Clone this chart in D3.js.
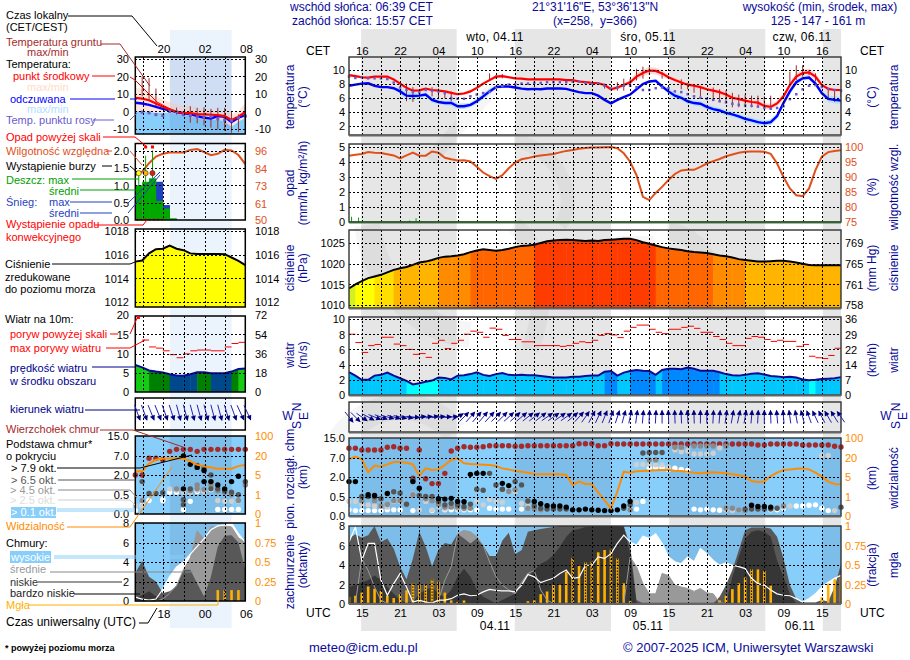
<!DOCTYPE html>
<html><head><meta charset="utf-8">
<script src="https://cdnjs.cloudflare.com/ajax/libs/d3/7.8.5/d3.min.js"></script>
<style>
html,body{margin:0;padding:0;background:#fff}
svg{display:block}
text{font-family:"Liberation Sans",Arial,sans-serif;font-size:12px}
</style></head><body><svg id="c" width="910" height="660"></svg>
<script>
// ---------- main forecast (hour 0 = 13 UTC) ----------
const tempMid=[9.2,9.05,8.9,8.85,9,9,9,8.6,8,7.4,7,7.05,7.3,7.1,7,6.9,6.7,6.5,6.6,6.9,7.4,8,8.5,9,9.05,8.9,8.75,8.7,8.6,8.6,8.6,8.6,8.6,8.6,8.5,8.5,8.3,8.2,8.1,8.05,7.8,7.2,7.45,7.8,8.2,9,9.5,9.85,9.8,9.45,8.9,8.5,8.15,7.85,7.7,7.5,7.2,7,6.8,6.45,6,5.8,5.6,5.4,5.3,4.85,4.7,5.2,6.2,7.8,9,9.5,9.6,9,7.8,7.25,7.1,7.1];
const tempFelt=[7.7,7.85,8,8.05,7.7,7.5,7.5,7.35,6.9,6.3,6.25,6.3,6.45,5.7,5.4,5.25,5.25,4.8,4.8,5,5.5,6.2,6.9,7.5,7.6,7.6,7.45,7.3,7.2,7.25,7.2,7.3,7.3,7.3,7.25,7,6.8,6.65,6.65,6.3,5.7,5.2,5.7,6.1,6.45,7.2,7.95,8.3,8.4,7.6,6.9,6.3,6,5.5,5.25,5.15,4.7,4.4,4.2,3.85,3.65,3.35,3,2.8,2.55,2.4,2.55,3.4,5.25,6.9,8.2,8.75,8.85,8,6.65,5.85,5.7,5.6];
const tempDew=[9,8.8,8.9,8.75,8.75,8.75,8.65,8.15,7.45,7.1,6.8,6.75,7.1,7,6.9,6.65,5.95,5.85,5.85,6.2,6.45,6.65,6.85,7.5,7.7,7.85,7.9,8,8,8.1,8.1,8.2,8.2,8.2,8.2,8.3,8.3,8.1,8,8,7.7,7.3,7.45,7.7,7.7,7.5,7.1,7.1,7.35,7.45,7.35,6.9,6.8,6.5,6.2,6,5.85,5.7,5.5,5.35,5.15,5,4.9,4.85,4.75,4.55,4.45,4.55,4.8,5.8,6.5,7.2,7.7,7.8,7.5,7.25,7.1,7];
const midSpread=[.2,.2,.2,.2,.2,.2,.2,.2,.2,.2,.2,.2,.2,.2,.2,.2,.2,.2,.2,.2,.2,.2,.2,.2,.2,.2,.2,.2,.2,.2,.2,.2,.2,.2,.2,.2,.2,.2,.2,.2,.2,.3,.3,.3,.3,.5,.5,.5,.5,.5,.35,.35,.35,.35,.35,.35,.35,.4,.4,.4,.4,.4,.4,.4,.4,.4,.4,.4,.4,.4,.5,.5,.5,.5,.35,.35,.35,.35];
const feltSpread=[.15,.15,.15,.15,.15,.15,.15,.15,.4,.6,.6,.4,.3,.4,.3,.3,.4,.4,.4,.3,.4,.4,.4,.2,.15,.15,.15,.15,.15,.15,.15,.15,.15,.15,.15,.15,.15,.15,.15,.15,.15,.15,.15,.15,.15,.15,.15,.15,.15,.2,.4,.4,.4,.4,.4,.4,.4,.4,.4,.4,.4,.4,.4,.4,.4,.4,.4,.4,.4,.4,.35,.3,.3,.3,.3,.5,.5,.5];
const groundHours=[9,10,13,14,15,16,22,23,24,40,42,43,44,45,46,47,49,52,53,54,55,57,58,59,60,61,62,63,64,65,66,69,70,71,72,73,75,76,77];
const groundMax=[8,7.5,7.5,7.3,7,6.9,9.45,9.2,9.35,8,8.2,8.7,8.7,10.1,10.4,10.3,9.6,8.6,8.1,7.9,7.7,7.45,7.2,7.05,6.7,6.45,6.45,6.3,6.3,6.2,6.3,9.7,10.6,10.6,9.95,9.45,7.25,7.1,7.1];
const groundMin=[5.5,5.4,6.2,5.9,5.9,5.5,8.5,8.7,8.75,7.3,7,7,7.7,8.45,8.7,9.3,8.7,7.2,7.2,6.7,6.2,5.9,5.5,5.2,4.65,4.65,4.65,4.65,4.65,4.8,4.8,7.6,8.5,9,9.2,8.3,5.7,5.4,6.1];
const precipHours=[.4,1.5,9.5,10.5,11.4];
const precipVals=[.35,.3,.1,.25,.05];
const humidity=[97.1,97.4,97.65,98.3,98.1,98,97.6,97.2,96.2,97.2,98.1,97.1,97.1,98.5,98.1,96.4,95.9,95.5,95.6,95.2,93.4,91.5,90.3,89.4,90.6,92.9,94.8,95.9,96.3,96.8,97.2,97.4,97.7,98.2,98.7,99,99.4,99.7,99.8,99.8,99.9,100,99.6,97.9,95.1,90.6,83.4,82.3,84.7,86.7,89,91,92.2,92.4,92.4,93.4,94.5,95.3,96,96.9,97.5,98.1,98.4,98.5,98.5,98.4,97.7,94.5,90,86.2,83.9,83.6,86.2,92.3,96.8,98.3,98.7,98.9];
const pressure=[1014,1015,1015.8,1016.5,1016.9,1017.3,1017.9,1018.5,1018.9,1019.2,1019.7,1020.3,1020.5,1020.9,1021.4,1021.7,1021.8,1022,1022.3,1022.8,1023.2,1023.5,1023.3,1023.1,1023.3,1023.6,1024,1024.3,1024.4,1024.6,1025,1025.4,1025.6,1025.7,1025.8,1025.7,1025.6,1025.5,1025.6,1025.5,1025.7,1025.8,1025.9,1026,1026,1025.7,1025.2,1024.8,1024.4,1024,1023.7,1023.5,1023.3,1023,1022.8,1022.7,1022.6,1022.3,1022,1021.8,1021.5,1021.1,1020.9,1020.7,1020.5,1020.5,1020.6,1020.7,1020.7,1020.5,1020.3,1020,1019.7,1019.6,1019.6,1019.6,1019.6,1019.6];
const windSpeed=[3,2.55,2,2,2.55,2.65,2.95,2.55,2.2,1.85,1.4,1.55,1.75,1.9,2.3,2.25,2.05,2.55,2.6,2.75,3,2.65,2.5,2.75,2.9,2.65,2.6,2.65,2.6,2.6,2.5,2.4,2.3,2.3,2.3,2.4,2.4,2.5,2.55,2.55,3.05,3.15,2.55,2.95,3.15,3.3,3.2,3.15,2.65,3.3,3.45,3.45,3.4,3.6,3.45,3.2,3.2,3.2,3,2.75,2.6,2.55,2.65,2.8,2.85,2.7,2.5,2.45,2.35,2.4,2.3,2.05,1.95,2,2.1,2.15,2.2,2.35];
const windGust=[8,6.9,5.6,6.5,6.65,7.6,7.6,6.7,6.5,6,5.35,5.45,4.95,6.8,7.2,6.1,6.8,7.2,8,8.4,8.25,7.6,8.8,8.65,7.85,7.3,7.3,7,7,6.5,6.5,6.5,6.5,6.4,6.5,6.8,7,6.9,7.2,7.85,8.07,7.9,7.55,8.4,8.9,9.2,9.2,8.65,8.25,8.07,8.65,8.65,8.9,9.05,8.77,8.25,8.25,7.7,7.3,6.8,6.5,6.5,7.45,7.7,7.6,7.3,7.05,7.2,7.05,7.05,6.4,6.65,5.1,4.9,4.8,5.2,6.15];
const windDir=[142,135,125,118,112,110,105,105,103,100,95,85,85,82,85,88,85,60,45,42,40,40,42,45,45,48,48,50,52,52,52,55,55,55,55,50,42,35,28,25,22,20,18,15,12,8,5,3,3,0,358,358,357,357,358,0,0,3,5,8,10,12,10,5,3,0,358,355,355,352,350,345,340,335,332,330,328,325];
const cloudTop=[10.9,10.9,10.2,10.2,10.2,10.2,11.3,11.5,10.9,10.9,1.9,10.2,1.87,1.5,1.5,2.96,9.8,10.9,11.5,11.3,11.3,11.5,11.9,11.9,11.9,11.9,11.7,11.7,11.9,11.9,11.9,11.9,11.9,11.9,11.9,11.9,12.7,12.7,12.7,11.9,11.9,12.7,12.6,12.6,12.6,12.6,12.6,12.6,12.6,12.6,12.6,12.6,12.6,12.6,12.6,12.6,12.6,12.6,12.6,12.6,12.6,12.6,12.6,12.6,12.2,12.2,12.6,12.6,12.6,12.6,12.6,12.2,12.2,12.2,12.2,12.2,11.7,11.4];
const base79=[[0,1.65],[1,1.65],[3,.65],[4,.6],[6,.75],[10,1.65],[11,1.15],[14,.45],[15,.44],[16,.46],[17,.38],[18,.37],[19,2.7],[20,2.96],[21,2.96],[24,1.52],[25,1.35],[29,.38],[30,.32],[31,.27],[32,.26],[33,.26],[34,.23],[35,.16],[36,.16],[37,.18],[38,.16],[39,.15],[40,.14],[41,.14],[42,.16],[43,.26],[44,.38],[63,.28],[64,.25],[65,.25],[66,.23]];
const base65=[[2,.52],[3,.52],[4,.5],[5,.45],[7,.88],[8,.78],[9,.31],[10,1.78],[11,.6],[12,.52],[13,.52],[14,.38],[15,.29],[16,.33],[17,.29],[18,.25],[19,.31],[20,1.08],[21,1],[22,2.96],[23,1.4],[24,1.08],[26,1.65],[27,1.4],[28,.39],[29,.26],[30,.2],[31,.18],[32,.18],[33,.18],[34,.18],[43,.2],[44,.29],[46,9],[47,9.2],[48,9.2],[49,9.2],[62,.18],[63,.18],[64,.18],[65,.18],[66,.18],[67,.2],[77,.23]];
const base45=[[2,.4],[4,.4],[5,.26],[6,.3],[7,.4],[8,.4],[9,.3],[10,.65],[12,.45],[13,.4],[14,.29],[15,.23],[16,.23],[17,.23],[18,.2],[19,.2],[24,1.05],[25,.9],[26,1.03],[28,.2],[29,.18],[30,.16],[44,.16],[47,6.5],[48,6.5],[51,11.3],[52,11.3],[54,11.8],[55,11.8],[56,11.8],[57,11.8],[59,11.8],[59,.2],[60,.2],[61,.16],[62,.14],[68,.26]];
const base25=[[0,.38],[1,.38],[2,.29],[3,.29],[4,.26],[5,.26],[6,.23],[7,.38],[8,.38],[10,.7],[11,.16],[12,.38],[13,.16],[14,.25],[15,.18],[17,.18],[18,.18],[20,.38],[21,.29],[22,.43],[23,.38],[24,.36],[25,.9],[26,.9],[27,.33],[28,.25],[44,.34],[45,.35],[45,5.3],[46,5.3],[47,5.2],[48,5.2],[49,5.2],[50,4.5],[51,10.2],[52,9.5],[53,9.9],[54,8.6],[55,8.6],[56,8.6],[57,8.9],[58,11],[59,.16],[60,.14],[61,.16],[68,.23],[69,.26],[74,8],[75,8],[76,.14]];
const base01=[[0,.16],[1,.14],[2,.14],[3,.14],[4,.14],[5,.14],[6,.16],[7,.16],[8,.16],[10,.14],[13,.14],[15,.16],[16,.16],[17,.16],[18,.16],[19,.16],[20,.16],[22,.2],[23,.18],[24,.18],[25,.18],[27,.18],[45,.18],[46,.38],[47,4.5],[48,4.5],[49,4.5],[50,4],[51,4.3],[52,4],[53,3.7],[54,.18],[55,.16],[56,.18],[57,.16],[58,.15],[59,.18],[66,.16],[67,.16],[68,.2],[70,.26],[71,.26],[72,.28],[73,.29],[74,.2],[75,.14]];
const visibility=[19,25.3,19,8.7,14,13.2,15,16.8,16.8,16.3,15,6,11.8,10.5,11,14.5,18.4,19.7,15.8,15.3,15,14.7,14.5,13.7,11.8,11,9.7,9.2,8.4,7.4,7.1,7.1,7.4,7.1,6.6,3.4,4.07,3.6,3.6,1.87,.81,.4,2.07,9.2,8.4,9.5,9.7,10,10.3,10.5,10.5,10,9.7,9.2,8.4,7.9,8.4,8.7,8.4,7.9,7.1,6.3,5.3,4.2,4,4.07,5.8,8.4,10.5,11,11.6,11.8,11,8.4,5.3,4.07,3.6,3.53];
const cloudHigh=[6.35,7.9,4.45,6.2,6.2,2.4,.85,2.05,3.1,1.7,.15,.35,.15,.05,.35,.35,.5,.85,1,.8,.85,1.2,1.45,1.35,1.3,1.3,1.2,1.9,3,2.75,2.15,2.4,2.6,3.1,3.45,2.6,2.7,3.95,3.95,4.8,4.65,5.15,6.2,7.05,6.35,6,6.95,6.7,7.2,6.2,4.8,4.3,4.1,4.8,4.3,5.65,5.15,4.45,3.95,4.2,3.95,3.8,3.6,2.6,2.05,1.9,1.4,1,.85,.8,.5,.15,.5,1,1.7,2.2,2.6,2.9];
const cloudMid=[0,0,4.6,3.4,1.7,.35,0,0,0,0,0,0,0,0,.35,2.4,3.8,7.2,7.55,7.4,6.9,6,4.3,2.75,1.9,1.4,1,2.2,3.1,3.4,1.4,.35,0,0,0,0,0,0,0,0,0,0,0,0,4.8,3.8,2.05,1,1,3.1,2.9,1.9,1.7,1.55,1.25,1.55,1.1,1,.1,0,0,0,0,0,0,0,0,0,0,0,0,0,0,0,0,0,0,0];
const cloudLow=[6.7,7.15,6.8,7.05,8,6.35,6.7,5.65,3.8,2.5,4.65,7.4,5.85,3.85,5.55,6.25,6.1,7.2,6.7,6.2,6.7,6,4.9,4.9,6.5,7.3,5.1,5.5,7.4,7.55,7.7,7.8,7.9,8,8,8,8,8,8,8,8,8,8,8,6,.35,0,0,0,0,0,0,0,0,0,0,0,0,.7,1.9,3.45,5.5,7.55,7.85,7.85,7.85,7.75,6.9,4.65,1.9,.5,.1,.1,.1,.35,.2,1.7,4.1];
const cloudVeryLow=[1.7,1.9,2.2,2.4,2.9,2.4,1.7,1,.35,.05,.15,1,1.4,1.7,1,.7,1.4,2.75,3.6,2.75,1.4,.7,.35,0,.35,.7,1,1.7,2.75,3.4,4.1,4.45,5,5.85,6.9,7.55,7.7,7.9,8,8,8,8,8,7.9,5.15,0,0,0,0,0,0,0,0,0,0,0,0,0,0,0,2.75,4.8,6.7,7.4,7.55,7.4,6.9,4.45,2.75,1,0,0,0,0,0,0,0,0];
const highFillFrom=44;
const fogHours=[0,1,2,3,4,5,6,7,8,9,10,11,12,13,14,15,16,17,18,28,29,30,31,32,33,34,35,36,37,38,39,40,41,42,43,44,58,59,60,61,62,63,64,65,66,74,75,76,77];
const fogVals=[.086,.1,.14,.22,.19,.16,.1,.07,.12,.17,.26,.245,.245,.31,.28,.14,.04,.02,.04,.03,.04,.12,.155,.24,.24,.41,.59,.485,.53,.54,.66,.69,.695,.58,.26,.03,.04,.1,.185,.26,.335,.44,.44,.42,.23,.08,.26,.315,.36];
const fogDotted=[10,11,12,13,14,35,37,38,41,42,63,65];
// ---------- short range panel (hour 0..16) ----------
const lTempMid=[7.6,7.2,6.3,4.4,2.5,1,-.4,-1,-1.1,-1.7,-1.9,-2.1,-2.3,-2.9,-5.1,-3.2,-.4];
const lTempFelt=[4.8,4.4,3.6,2.5,1.3,.4,-.6,-1.3,-1.7,-2.9,-3.8,-4.2,-2.9,-3.2,-6.3,-3.8,-2.3];
const lTempDew=[null,-.6,-1,-2,-2.5,-.2,-.4,-2,-2.5,-3.2,-3.6,-3.2,-4.4,-5.1,-5.5,-3.8,-2.9];
const lPaleTop=[13.7,12.4,10.5,8.6,6.7,5.1,3.8,2.8,2.8,1.9,1,.4,0,0,-1.9,0,4.8];
const lPaleLow=[0,0,-.5,-1,-1,-1,-1.5,-2,-3,-4,-5,-5,-5,-6,-9,-6,-4];
const lGroundHours=[1,2,3,6,8,9,10,11,12,13,14,15,16];
const lGroundMax=[20,19,13,2,2.8,1.9,2.3,1.3,1.9,1.9,0,-1.9,2.8];
const lGroundMin=[8.5,6.7,2,-2,-6.7,-7,-8.2,-9.5,-10.5,-11.4,-12.4,-12,-4.8];
const lRain=[1,1.1,1.2,.55,.33,.05];
const lSnow=[null,null,null,1.1,.43,null];
const stormHours=[.5,1.5,2.5];
const stormColors=['#ffff00','#ffb000','#e02000'];
const stormTop=[1.35,1.85,2];
const overScaleHours=[1.5,2.5];
const convHours=[.3,.9,1.5,2.1,2.7,3.3,3.9];
const lHumidity=[79.8,82,87.6,92,93.8,94.7,94.7,94.7,96.4,97,95,92.9,93.8,96.4,96,93,87];
const lPressure=[1015.4,1015.5,1016.1,1016.45,1016.5,1016.76,1016.5,1016.37,1016.1,1016.05,1016.05,1016.05,1016.05,1016.03,1015.75,1015.46,1015.1];
const lWindSpeed=[7,6.4,5.6,5.3,5.1,4.6,4.3,4.2,4.6,5.1,5.1,4.9,4.9,4.9,5.3,6,6.1];
const lWindGust=[null,13.5,11.7,11.4,10.7,9.7,8.9,9.9,10.7,10.9,10.9,10.7,10.7,11.7,12.6,12.9];
const lWindDir=[160,160,158,158,160,162,165,165,165,165,165,165,165,163,160,155,155];
const lCloudTop=[2,2,6.4,6.4,6,8.87,9.67,9.67,9.67,8.87,9.67,9.67,9.67,9.67,9.67,9.67,9.67];
const lBase79=[[7,7],[8,4.8],[9,4],[10,3.2],[10,1.5],[11,1.5],[12,1.25],[13,.95],[14,1.5],[15,1.9],[7,.95]];
const lBase65=[[1,1.5],[2,.6],[3,.6],[4,.65],[7,.37],[7,.24],[8,.95],[9,4.5],[10,4],[11,2],[11,.95],[12,.95],[13,.8],[14,.7],[15,.5],[16,1.5]];
const lBase45=[[1,.35],[6,.95],[7,.37],[8,.8],[9,1.25],[9,.95],[10,.9],[11,1.5],[11,1.25],[12,.8],[13,.7],[14,.5],[15,.35],[16,1.25]];
const lBase25=[[0,.21],[1,.21],[5,.95],[6,.85],[7,.7],[8,.7],[9,.85],[10,.75],[12,.35],[13,.33],[14,.33],[15,.33]];
const lBase01=[[0,.1],[1,.22],[2,.35],[4,.38],[4,.35],[5,.7],[6,.7],[7,.12],[8,.33],[9,.75],[10,.8],[11,.9],[12,.12],[13,.12],[14,.12],[15,.12]];
const lVisibility=[8,8,14,17,18,18,18,18,16,13,12,11,10,10,10,12,13];
const lCloudHigh=[.4,.2,.1,.2,1.2,2.5,3.5,4,4.8,5.6,6.4,7.3,7.7,7.8,8,6.9,6];
const lCloudMid=[0,0,0,0,.2,.8,1.6,3.2,4.4,7.2,6.3,7.6,7.6,7.7,7.6,6.5,6];
const lCloudLow=[2.9,4.1,2.5,2,.8,1,1.5,3.2,3.2,1.8,.45,2.5,5.6,6.7,6.75,6,3.2];
const lCloudVeryLow=[.3,.6,1,.5,.1,0,0,0,0,0,0,0,0,0,0,0,0];
const lFogHours=[12,13,14,15];
const lFogVals=[.14,.14,.14,.14];
// ---------- tick labels ----------
const localLabels=['16','22','04','10','16','22','04','10','16','22','04','10','16'];
const utcLabels=['15','21','03','09','15','21','03','09','15','21','03','09','15'];
const labelHours=[2,8,14,20,26,32,38,44,50,56,62,68,74];
const nightSpans=[[1.9,16.85],[25.95,41],[50.1,65.15],[74.15,77]];
const gridHours=d3.range(2,77,3);
const lLocalLabels=['20','02','08'];
const lUtcLabels=['18','00','06'];
const lLabelHours=[4.1,10.1,16.1];
const lGridHours=[1.1,4.1,7.1,10.1,13.1];

const svg=d3.select('#c');
const NAVY='#0a0a9a', ORANGE='#ff8c00', RHC='#e2501a', BROWN='#a52a2a';
const SKY='#87cefa', SKYD='#7cbde9';
const xM=d3.scaleLinear().domain([0,77]).range([349,841]);
const xL=d3.scaleLinear().domain([0,16]).range([135.3,245.3]);

// background bands
const bg=svg.append('g');
bg.selectAll('rect').data(nightSpans).join('rect')
 .attr('x',d=>xM(d[0])).attr('width',d=>xM(d[1])-xM(d[0])).attr('y',29).attr('height',602).attr('fill','#e6e6e6');
bg.append('rect').attr('x',xL(5.03)).attr('width',xL(14)-xL(5.03)).attr('y',30).attr('height',598).attr('fill','#ebf3fd');
// faint watermark
[['M367 225 C378 290 420 330 470 335 M455 432 C430 400 372 395 340 440',26],
 ['M514 225 C545 250 548 300 530 350 M620 310 L625 245 L645 245 L650 310',18],
 ['M667 232 C700 232 720 270 715 310',18],
 ['M430 160 L500 80 M514 140 C560 150 580 200 560 225',14]].forEach(w=>
  bg.append('path').attr('d',w[0]).attr('fill','none').attr('stroke','#000').attr('stroke-opacity',.035).attr('stroke-width',w[1]));

let clipN=0;
function panel(o){
 const g=svg.append('g');
 const id='cp'+(clipN++);
 g.append('clipPath').attr('id',id).append('rect').attr('x',o.x0).attr('y',o.top).attr('width',o.x1-o.x0).attr('height',o.bottom-o.top);
 const body=g.append('g').attr('clip-path',`url(#${id})`);
 const over=g.append('g');
 o.g=g;o.body=body;o.over=over;
 return o;
}
function finish(o,y,ticks){
 const gh=o.x===xM?gridHours:lGridHours;
 const gr=o.g.append('g').attr('stroke','#000').attr('stroke-dasharray','2,2').attr('shape-rendering','crispEdges');
 gr.selectAll('.v').data(gh).join('line').attr('x1',d=>Math.round(o.x(d))+.5).attr('x2',d=>Math.round(o.x(d))+.5).attr('y1',o.top).attr('y2',o.bottom);
 if(ticks) gr.selectAll('.h').data(ticks).join('line').attr('y1',d=>Math.round(y(d))+.5).attr('y2',d=>Math.round(y(d))+.5).attr('x1',o.x0).attr('x2',o.x1);
}
function front(o){ o.g.append('rect').attr('x',o.x0).attr('y',o.top).attr('width',o.x1-o.x0).attr('height',o.bottom-o.top)
   .attr('fill','none').attr('stroke',o.x===xM?'#333':'#000').attr('stroke-width',o.x===xM?1.4:1.5);
 if(o.x===xM) o.g.append('line').attr('x1',o.x0).attr('x2',o.x1).attr('y1',o.bottom+.5).attr('y2',o.bottom+.5).attr('stroke','#666').attr('stroke-width',2);
}
function yAxis(o,y,values,labels,side,color){
 const gen=(side==='left'?d3.axisLeft(y):d3.axisRight(y)).tickSize(0).tickPadding(0).tickValues(values).tickFormat((d,i)=>labels[i]);
 const xp=side==='left'?(o.x===xM?345:129):(o.x===xM?845:255);
 const a=svg.append('g').attr('transform',`translate(${xp},0)`).call(gen);
 a.select('.domain').remove();
 a.selectAll('text').attr('fill',color||'#000').style('font-size','11px').attr('dy','.36em');
 return a;
}
function hAxis(x,vals,labels,yy){
 const a=svg.append('g').attr('transform',`translate(0,${yy})`).call(d3.axisTop(x).tickSize(0).tickPadding(0).tickValues(vals).tickFormat((d,i)=>labels[i]));
 a.select('.domain').remove();
 a.selectAll('text').attr('fill','#000').style('font-size','11.5px');
}
const line=(x,y,arr)=>d3.line().defined(d=>d!=null).x((d,i)=>x(i)).y(d=>y(d))(arr);

// ---- temperature
function drawTemp(o,y,mid,felt,dew,gh,gmax,gmin,dewSize){
 o.body.selectAll('.gb').data(gh).join('line').attr('x1',(d)=>o.x(d)).attr('x2',d=>o.x(d))
  .attr('y1',(d,i)=>y(gmax[i])).attr('y2',(d,i)=>y(gmin[i])).attr('stroke',BROWN).attr('stroke-width',1);
 o.body.append('path').attr('d',line(o.x,y,felt)).attr('fill','none').attr('stroke','#0000ff').attr('stroke-width',2.4);
 o.body.append('path').attr('d',line(o.x,y,mid)).attr('fill','none').attr('stroke','#ff0000').attr('stroke-width',2.2);
 o.over.selectAll('rect').data(dew.map((d,i)=>[i,d]).filter(d=>d[1]!=null)).join('rect')
  .attr('x',d=>o.x(d[0])-dewSize/2).attr('y',d=>y(d[1])-dewSize/2).attr('width',dewSize).attr('height',dewSize).attr('fill','#6a5acd');
}
{
 const o=panel({x:xM,x0:349,x1:841,top:57,bottom:135});
 const y=d3.scaleLinear().domain([2,10]).range([126,69.5]);
 const band=(arr,sp,c)=>o.body.append('path').attr('fill',c).attr('d',d3.area().x((d,i)=>xM(i)).y0((d,i)=>y(d+sp[i])).y1((d,i)=>y(d-sp[i]))(arr));
 band(tempMid,midSpread,'#ffd9d9');band(tempFelt,feltSpread,'#b5e2ff');
 finish(o,y,[2,4,6,8,10]);
 drawTemp(o,y,tempMid,tempFelt,tempDew,groundHours,groundMax,groundMin,2.5);
 front(o);
 yAxis(o,y,[2,4,6,8,10],['2','4','6','8','10'],'left');
 yAxis(o,y,[2,4,6,8,10],['2','4','6','8','10'],'right');
}
{
 const o=panel({x:xL,x0:135.3,x1:245.3,top:57,bottom:134});
 const y=d3.scaleLinear().domain([-10,30]).range([128.5,59]);
 o.body.append('path').attr('fill','#ffe6dc').attr('d',d3.area().x((d,i)=>xL(i)).y0((d,i)=>y(lPaleLow[i])).y1(d=>y(d))(lPaleTop));
 o.body.append('path').attr('fill',SKY).attr('d',d3.area().x((d,i)=>xL(i)).y0(134).y1(d=>y(d))(lPaleLow));
 o.body.append('rect').attr('x',xL(5.03)).attr('width',xL(14)-xL(5.03)).attr('y',57).attr('height',77).attr('fill','#5a7ec8').attr('opacity',.18);
 finish(o,y,[-10,0,10,20,30]);
 drawTemp(o,y,lTempMid,lTempFelt,lTempDew,lGroundHours,lGroundMax,lGroundMin,3);
 front(o);
 const t=[-10,0,10,20,30],l=['-10','0','10','20','30'];
 yAxis(o,y,t,l,'left');yAxis(o,y,t,l,'right');
}
// ---- precipitation / humidity
{
 const o=panel({x:xM,x0:349,x1:841,top:144,bottom:222});
 const y=d3.scaleLinear().domain([0,5]).range([222,147]);
 const yh=d3.scaleLinear().domain([75,100]).range([222,147]);
 finish(o,y,[1,2,3,4,5]);
 o.body.selectAll('.pb').data(precipHours).join('line').attr('x1',d=>xM(d)).attr('x2',d=>xM(d))
  .attr('y1',222).attr('y2',(d,i)=>y(precipVals[i])).attr('stroke','#00a000').attr('stroke-width',1);
 o.body.append('path').attr('d',line(xM,yh,humidity)).attr('fill','none').attr('stroke',RHC).attr('stroke-width',2);
 front(o);
 o.g.append('line').attr('x1',349).attr('x2',841).attr('y1',222).attr('y2',222).attr('stroke','#006400');
 yAxis(o,y,[0,1,2,3,4,5],['0','1','2','3','4','5'],'left');
 yAxis(o,yh,[75,80,85,90,95,100],['75','80','85','90','95','100'],'right',RHC);
}
{
 const o=panel({x:xL,x0:135.3,x1:245.3,top:143.5,bottom:220});
 const y=d3.scaleLinear().domain([0,2]).range([220,150.5]);
 const yh=d3.scaleLinear().domain([50,96]).range([220,150.5]);
 o.body.selectAll('.s').data(lSnow).join('rect').filter(d=>d!=null)
  .attr('x',(d,i)=>xL(lSnow.indexOf(d))).attr('width',xL(1)-xL(0)+.3).attr('y',d=>y(d)).attr('height',d=>220-y(d)).attr('fill','#1f3fc4');
 o.body.selectAll('.r').data(lRain).join('rect')
  .attr('x',(d,i)=>xL(i)).attr('width',xL(1)-xL(0)+.3).attr('y',d=>y(d)).attr('height',d=>220-y(d)).attr('fill','#00a800');
 finish(o,y,[.5,1,1.5,2]);
 o.body.append('path').attr('d',line(xL,yh,lHumidity)).attr('fill','none').attr('stroke',RHC).attr('stroke-width',2);
 stormHours.forEach((h,i)=>{
  o.over.append('line').attr('x1',xL(h)).attr('x2',xL(h)).attr('y1',y(lRain[Math.floor(h)])).attr('y2',y(stormTop[i])).attr('stroke','#00a800');
 });
 o.over.selectAll('circle.st').data(stormHours).join('circle').attr('class','st').attr('cx',d=>xL(d)).attr('cy',y(1.35)).attr('r',2.6)
  .attr('fill',(d,i)=>stormColors[i]).attr('stroke','#333').attr('stroke-width',.6);
 svg.selectAll('rect.os').data(overScaleHours).join('rect').attr('class','os').attr('x',d=>xL(d)-1.5).attr('y',145.5).attr('width',3).attr('height',3).attr('fill','#f00');
 o.over.selectAll('circle.cv').data(convHours).join('circle').attr('class','cv').attr('cx',d=>xL(d)).attr('cy',219.5).attr('r',1.1).attr('fill','#f00');
 front(o);
 yAxis(o,y,[0,.5,1,1.5,2],['0.0','0.5','1.0','1.5','2.0'],'left');
 yAxis(o,yh,[50,61,73,84,96],['50','61','73','84','96'],'right',RHC);
}
// ---- pressure
const pColor=d3.scaleThreshold().domain([1014.5,1016.8,1018.4,1020.95,1022.4,1024.55]).range(['#d4f020','#ffff00','#ffdf00','#ffb400','#ff8c00','#ff6600','#ff3c00']);
function drawPress(o,y,arr,lw){
 const id='pa'+(clipN++);
 o.body.append('clipPath').attr('id',id).append('path').attr('d',d3.area().x((d,i)=>o.x(i)).y0(o.bottom).y1(d=>y(d))(arr));
 o.body.append('g').attr('clip-path',`url(#${id})`).selectAll('rect').data(arr).join('rect')
  .attr('x',(d,i)=>o.x(i)).attr('width',o.x(1)-o.x(0)+.5).attr('y',o.top).attr('height',o.bottom-o.top).attr('fill',d=>pColor(d));
 finish(o,y,o.yt);
 o.over.append('path').attr('d',line(o.x,y,arr)).attr('fill','none').attr('stroke','#000').attr('stroke-width',lw);
 front(o);
}
{
 const o=panel({x:xM,x0:349,x1:841,top:230,bottom:308,yt:[1010,1015,1020,1025]});
 const y=d3.scaleLinear().domain([1010,1025]).range([305,243]);
 drawPress(o,y,pressure,2);
 yAxis(o,y,o.yt,['1010','1015','1020','1025'],'left');
 yAxis(o,y,o.yt,['758','761','765','769'],'right');
}
{
 const o=panel({x:xL,x0:135.3,x1:245.3,top:229,bottom:307,yt:[1012,1014,1016,1018]});
 const y=d3.scaleLinear().domain([1012,1018]).range([301.7,231]);
 drawPress(o,y,lPressure,2);
 const l=['1012','1014','1016','1018'];
 yAxis(o,y,o.yt,l,'left');yAxis(o,y,o.yt,l,'right');
}
// ---- wind
const wColor=d3.scaleThreshold().domain([2,3.02,4,5,6]).range(['#00ffff','#00c8ff','#0088ff','#00488c','#008000','#14cc14']);
function drawWind(o,y,sp,gust,lw){
 const id='wa'+(clipN++);
 o.body.append('clipPath').attr('id',id).append('path').attr('d',d3.area().x((d,i)=>o.x(i)).y0(o.bottom).y1(d=>y(d))(sp));
 o.body.append('g').attr('clip-path',`url(#${id})`).selectAll('rect').data(sp).join('rect')
  .attr('x',(d,i)=>o.x(i)).attr('width',o.x(1)-o.x(0)+.5).attr('y',o.top).attr('height',o.bottom-o.top).attr('fill',d=>wColor(d));
 finish(o,y,o.yt);
 o.over.selectAll('line.g').data(gust.map((d,i)=>[i,d]).filter(d=>d[1]!=null)).join('line').attr('class','g')
  .attr('x1',d=>o.x(d[0])).attr('x2',d=>o.x(d[0]+1)).attr('y1',d=>y(d[1])).attr('y2',d=>y(d[1])).attr('stroke','#f00').attr('stroke-width',1);
 o.over.append('path').attr('d',line(o.x,y,sp)).attr('fill','none').attr('stroke','#0a0a96').attr('stroke-width',lw);
 front(o);
}
{
 const o=panel({x:xM,x0:349,x1:841,top:317,bottom:395,yt:[2,4,6,8,10]});
 const y=d3.scaleLinear().domain([0,10]).range([395,319]);
 drawWind(o,y,windSpeed,windGust,2);
 const t=[0,2,4,6,8,10];
 yAxis(o,y,t,['0','2','4','6','8','10'],'left');
 yAxis(o,y,t,['0','7','14','22','29','36'],'right');
}
{
 const o=panel({x:xL,x0:135.3,x1:245.3,top:316,bottom:392,yt:[5,10,15]});
 const y=d3.scaleLinear().domain([0,20]).range([392,315]);
 drawWind(o,y,lWindSpeed,lWindGust,2);
 svg.append('rect').attr('x',xL(.45)-1.5).attr('y',316).attr('width',3).attr('height',3).attr('fill','#f00');
 const t=[0,5,10,15,20];
 yAxis(o,y,t,['0','5','10','15','20'],'left');
 yAxis(o,y,t,['0','18','36','54','72'],'right');
}
// ---- wind direction
function drawDir(o,dirs,cy,L,off){
 finish(o,null,null);
 const g=svg.append('g');
 const rad=d=>d*Math.PI/180;
 g.selectAll('line').data(dirs).join('line')
  .attr('x1',(d,i)=>o.x(i)-Math.sin(rad(d))*L/2+off).attr('x2',(d,i)=>o.x(i)+Math.sin(rad(d))*L/2+off)
  .attr('y1',d=>cy+Math.cos(rad(d))*L/2).attr('y2',d=>cy-Math.cos(rad(d))*L/2).attr('stroke','#2424b4').attr('stroke-width',1);
 g.selectAll('path').data(dirs).join('path').attr('d','M0,-2.8 L2.6,2.4 L-2.6,2.4 Z').attr('fill','#00007c')
  .attr('transform',(d,i)=>`translate(${o.x(i)+Math.sin(rad(d))*(L/2-2)+off},${cy-Math.cos(rad(d))*(L/2-2)}) rotate(${d})`);
 front(o);
}
drawDir(panel({x:xM,x0:349,x1:841,top:402,bottom:432}),windDir,417,13,0);
drawDir(panel({x:xL,x0:135.3,x1:245.3,top:398,bottom:430}),lWindDir,412.5,16,2);
// ---- cloud base + visibility
const kmDomain=[0,.5,2,7,15], visDomain=[0,1,5,20,100];
function drawBase(o,top,series,vis,bandSpan){
 const rng=[o.bottom,o.bottom-19.2,o.bottom-39,o.bottom-58,o.bottom-78];
 const y=d3.scaleLinear().domain(kmDomain).range(rng);
 const yv=d3.scaleLinear().domain(visDomain).range(rng);
 o.body.append('rect').attr('x',o.x0).attr('y',o.top).attr('width',o.x1-o.x0).attr('height',o.bottom-o.top).attr('fill',SKY);
 o.body.selectAll('.nb').data(bandSpan).join('rect').attr('x',d=>o.x(d[0])).attr('width',d=>o.x(d[1])-o.x(d[0])).attr('y',o.top).attr('height',o.bottom-o.top).attr('fill',SKYD);
 finish(o,y,[.5,2,7]);
 const R=2.7;
 const dots=(arr,c)=>o.over.append('g').selectAll('circle').data(arr).join('circle').attr('cx',d=>o.x(d[0])).attr('cy',d=>y(d[1])).attr('r',R).attr('fill',c);
 dots(top.map((d,i)=>[i,d]),BROWN);
 series.forEach(s=>dots(s[0],s[1]));
 o.over.append('path').attr('d',line(o.x,yv,vis)).attr('fill','none').attr('stroke',ORANGE).attr('stroke-width',2);
 front(o);
 return [y,yv];
}
{
 const o=panel({x:xM,x0:349,x1:841,top:438,bottom:516});
 const [y,yv]=drawBase(o,cloudTop,[[base01,'#fff'],[base25,'#cfcfcf'],[base45,'#8a8a8a'],[base65,'#555'],[base79,'#000']],visibility,nightSpans);
 yAxis(o,y,kmDomain,['0.0','0.5','2.0','7.0','15.0'],'left');
 yAxis(o,yv,visDomain,['0','1','5','20','100'],'right',ORANGE);
}
{
 const o=panel({x:xL,x0:135.3,x1:245.3,top:436,bottom:514});
 const [y,yv]=drawBase(o,lCloudTop,[[lBase01,'#fff'],[lBase25,'#cfcfcf'],[lBase45,'#8a8a8a'],[lBase65,'#555'],[lBase79,'#000']],lVisibility,[[5.03,14]]);
 yAxis(o,y,kmDomain,['0.0','0.5','2.0','7.0','15.0'],'left');
 yAxis(o,yv,visDomain,['0','1','5','20','100'],'right',ORANGE);
}
// ---- cloud cover + fog
function drawCover(o,hi,mi,lo,vl,fh,fv,dotted,span,hiFrom){
 const y=d3.scaleLinear().domain([0,8]).range([o.bottom,o.top]);
 const yf=d3.scaleLinear().domain([0,1]).range([o.bottom,o.top]);
 o.body.append('rect').attr('x',o.x0).attr('y',o.top).attr('width',o.x1-o.x0).attr('height',o.bottom-o.top).attr('fill',SKY);
 o.body.selectAll('.nb').data(span).join('rect').attr('x',d=>o.x(d[0])).attr('width',d=>o.x(d[1])-o.x(d[0])).attr('y',o.top).attr('height',o.bottom-o.top).attr('fill',SKYD);
 const ar=(a,c,from)=>o.body.append('path').attr('fill',c).attr('d',d3.area().defined((d,i)=>i>=from).x((d,i)=>o.x(i)).y0(o.bottom).y1(d=>y(d))(a));
 ar(hi,'#fff',hiFrom);ar(mi,'#999',0);ar(lo,'#585858',0);ar(vl,'#363636',0);
 finish(o,y,[2,4,6]);
 o.over.append('path').attr('d',line(o.x,y,mi)).attr('fill','none').attr('stroke','#999').attr('stroke-width',1);
 o.over.append('path').attr('d',line(o.x,y,hi)).attr('fill','none').attr('stroke','#fff').attr('stroke-width',1.2);
 o.body.append('g').selectAll('rect').data(fh).join('rect').attr('x',d=>o.x(d)-1.3).attr('width',2.6)
  .attr('y',(d,i)=>yf(fv[i])).attr('height',(d,i)=>o.bottom-yf(fv[i])).attr('fill','#ffb000');
 o.body.append('g').selectAll('line').data(fh.map((h,i)=>[h,fv[i]]).filter(d=>dotted.includes(d[0]))).join('line')
  .attr('x1',d=>o.x(d[0])).attr('x2',d=>o.x(d[0])).attr('y1',d=>yf(d[1])).attr('y2',o.bottom).attr('stroke','#000').attr('stroke-dasharray','1.5,1.5');
 front(o);
 return [y,yf];
}
{
 const o=panel({x:xM,x0:349,x1:841,top:526,bottom:603.5});
 const [y,yf]=drawCover(o,cloudHigh,cloudMid,cloudLow,cloudVeryLow,fogHours,fogVals,fogDotted,nightSpans,highFillFrom);
 yAxis(o,y,[0,2,4,6,8],['0','2','4','6','8'],'left');
 yAxis(o,yf,[0,.25,.5,.75,1],['0','0.25','0.5','0.75','1'],'right',ORANGE);
}
{
 const o=panel({x:xL,x0:135.3,x1:245.3,top:523,bottom:601});
 const [y,yf]=drawCover(o,lCloudHigh,lCloudMid,lCloudLow,lCloudVeryLow,lFogHours,lFogVals,[13],[[5.03,14]],0);
 yAxis(o,y,[0,2,4,6,8],['0','2','4','6','8'],'left');
 yAxis(o,yf,[0,.25,.5,.75,1],['0','0.25','0.5','0.75','1'],'right',ORANGE);
}
// time axes
hAxis(xM,labelHours,localLabels,55);
hAxis(xM,labelHours,utcLabels,617);
hAxis(xL,lLabelHours,lLocalLabels,53);
hAxis(xL,lLabelHours,lUtcLabels,618);

// legend leaders
const leaders=[
 ['M68 16H132L157 46','#000'],['M101 44H120L150 86',BROWN],['M92 76H115M130 77L135 80L157 102L172 110','#f00'],
 ['M70 99H115M130 99H137','#00f'],['M93 120H114M130 120L137 113','#6a5acd'],['M103 137H135L146 146','#f00'],
 ['M106 151H112M130 151L142 165',RHC],['M102 166H112M130 166L137 172','#000'],['M72 179H139','#00a000'],['M80 190H143','#00a000'],
 ['M70 202H112M128 203L160 172','#1f3fc4'],['M80 213H112M128 213L160 175','#1f3fc4'],['M95 225H143L147 220','#f00'],
 ['M52 264H130L135 262','#000'],['M110 334H118M130 334L138 316','#f00'],['M106 348H130L145 340','#f00'],['M92 367H135','#00008b'],
 ['M85 410H140','#00008b'],['M100 430H133L183 447',BROWN],['M57 468H140L192 455','#000'],['M58 480H135','#555'],
 ['M58 490H130L137 498','#888'],['M58 500H130L135 505','#ccc'],['M57 509H135M57 511H135',SKY],
 ['M67 527H130L172 467',ORANGE],['M54 556H185M54 558H185',SKY],['M50 572H193','#888'],['M38 582H122','#333'],
 ['M74 594H140','#000'],['M28 605H218V595','#ffb000'],['M139 623H148L157 608','#000']];
svg.append('g').selectAll('path').data(leaders).join('path').attr('d',d=>d[0]).attr('fill','none').attr('stroke',d=>d[1]).attr('stroke-width',1);
svg.append('rect').attr('x',11).attr('y',507).attr('width',45).attr('height',11).attr('fill',SKY);
svg.append('rect').attr('x',10).attr('y',551).attr('width',41).attr('height',12).attr('fill',SKY);

// text
const legendText=[
 ['Czas lokalny',6,19,'#000'],['(CET/CEST)',6,31,'#000'],['Temperatura gruntu',6,46,BROWN],['max/min',27,56,BROWN],
 ['Temperatura:',6,68,'#000'],['punkt środkowy',13,80,'#f00'],['max/min',27,91,'#ffdcc8'],['odczuwana',10,103,'#00f'],['max/min',27,113,'#b0e0ff'],
 ['Temp. punktu rosy',6,124,'#6a5acd'],['Opad powyżej skali',6,141,'#f00'],['Wilgotność względna',6,155,RHC],['Wystąpienie burzy',6,170,'#000'],
 ['Deszcz: max',6,184,'#00a000'],['średni',49,195,'#00a000'],['Śnieg:',6,206,'#1f3fc4'],['max',49,206,'#1f3fc4'],['średni',49,217,'#1f3fc4'],
 ['Wystąpienie opadu',6,228,'#f00'],['konwekcyjnego',6,241,'#f00'],['Ciśnienie',5,268,'#000'],['zredukowane',5,281,'#000'],['do poziomu morza',5,293,'#000'],
 ['Wiatr na 10m:',5,323,'#000'],['poryw powyżej skali',10,338,'#f00'],['max porywy wiatru',10,352,'#f00'],['prędkość wiatru',10,372,'#00008b'],['w środku obszaru',10,385,'#00008b'],
 ['kierunek wiatru',10,413,'#00008b'],['Wierzchołek chmur',6,433,BROWN],['Podstawa chmur*',6,448,'#000'],['o pokryciu',6,460,'#000'],
 ['> 7.9 okt.',11,472,'#000'],['> 6.5 okt.',11,484,'#555'],['> 4.5 okt.',10,494,'#999'],['> 2.5 okt.',10,504,'#ddd'],['> 0.1 okt.',11,516,'#fff'],
 ['Widzialność',6,530,ORANGE],['Chmury:',6,547,'#000'],['wysokie',11,561,'#fff'],['średnie',10,573,'#999'],['niskie',10,586,'#333'],['bardzo niskie',10,597,'#222'],
 ['Mgła',6,609,'#ffb000']];
svg.append('g').selectAll('text').data(legendText).join('text').text(d=>d[0]).attr('x',d=>d[1]).attr('y',d=>d[2]).attr('fill',d=>d[3]).style('font-size','11px');
const T=[
 ['Czas uniwersalny (UTC)',6,626,'#000'],
 ['CET',306,55,'#000'],['CET',860,55,'#000'],['UTC',306,617,'#000'],['UTC',860,617,'#000'],
 ['wschód słońca: 06:39 CET',290,11,NAVY],['zachód słońca: 15:57 CET',292,25,NAVY]];
svg.append('g').selectAll('text').data(T).join('text').text(d=>d[0]).attr('x',d=>d[1]).attr('y',d=>d[2]).attr('fill',d=>d[3]);
const foot=[['meteo@icm.edu.pl',309,652],['© 2007-2025 ICM, Uniwersytet Warszawski',623,652]];
svg.append('g').selectAll('text').data(foot).join('text').text(d=>d[0]).attr('x',d=>d[1]).attr('y',d=>d[2]).attr('fill',NAVY).style('font-size','13px');
svg.append('text').text('* powyżej poziomu morza').attr('x',5).attr('y',651).style('font-size','9px').style('font-weight','bold').attr('fill','#000');
const TC=[
 ['21°31\'16"E, 53°36\'13"N',595,11,NAVY,0],['(x=258,  y=366)',595,25,NAVY,0],['wysokość (min, środek, max)',820,11,NAVY,0],['125 - 147 - 161 m',818,25,NAVY,0],
 ['wto, 04.11',495,41,'#000',.3],['śro, 05.11',648,41,'#000',.3],['czw, 06.11',802,41,'#000',.3],
 ['04.11',495,630,'#000',.3],['05.11',648,630,'#000',.3],['06.11',800,630,'#000',.3]];
svg.append('g').selectAll('text').data(TC).join('text').text(d=>d[0]).attr('x',d=>d[1]).attr('y',d=>d[2]).attr('fill',d=>d[3]).attr('letter-spacing',d=>d[4]).attr('text-anchor','middle').style('white-space','pre');
const TR=[
 ['temperatura',290,97],['(°C)',303,97],['opad',290,183],['(mm/h, kg/m²/h)',303,183],['ciśnienie',290,268],['(hPa)',303,268],['wiatr',290,355],['(m/s)',303,355],
 ['pion. rozciągł. chm.',290,477],['(km)',303,477],['zachmurzenie',290,572],['(oktanty)',303,565],
 ['(°C)',872,97],['temperatura',894,97],['(%)',872,187],['wilgotność wzgl.',894,187],['(mm Hg)',872,268],['ciśnienie',894,268],['(km/h)',872,360],['wiatr',894,360],
 ['(km)',872,478],['widzialność',894,478],['(frakcja)',872,565],['mgła',894,565]];
svg.append('g').selectAll('text').data(TR).join('text').text(d=>d[0]).attr('text-anchor','middle').attr('fill',NAVY)
 .attr('transform',d=>`translate(${d[1]+4},${d[2]}) rotate(-90)`);
// compasses
[[288,297,304],[886,896,903]].forEach(c=>{
 const g=svg.append('g').attr('fill',NAVY);
 g.append('text').text('W').attr('text-anchor','middle').attr('x',c[0]).attr('y',420);
 [['N',c[1],407],['E',c[2],416],['S',c[1],425]].forEach(d=>g.append('text').text(d[0]).attr('text-anchor','middle').attr('transform',`translate(${d[1]+4},${d[2]}) rotate(-90)`));
});
</script></body></html>
